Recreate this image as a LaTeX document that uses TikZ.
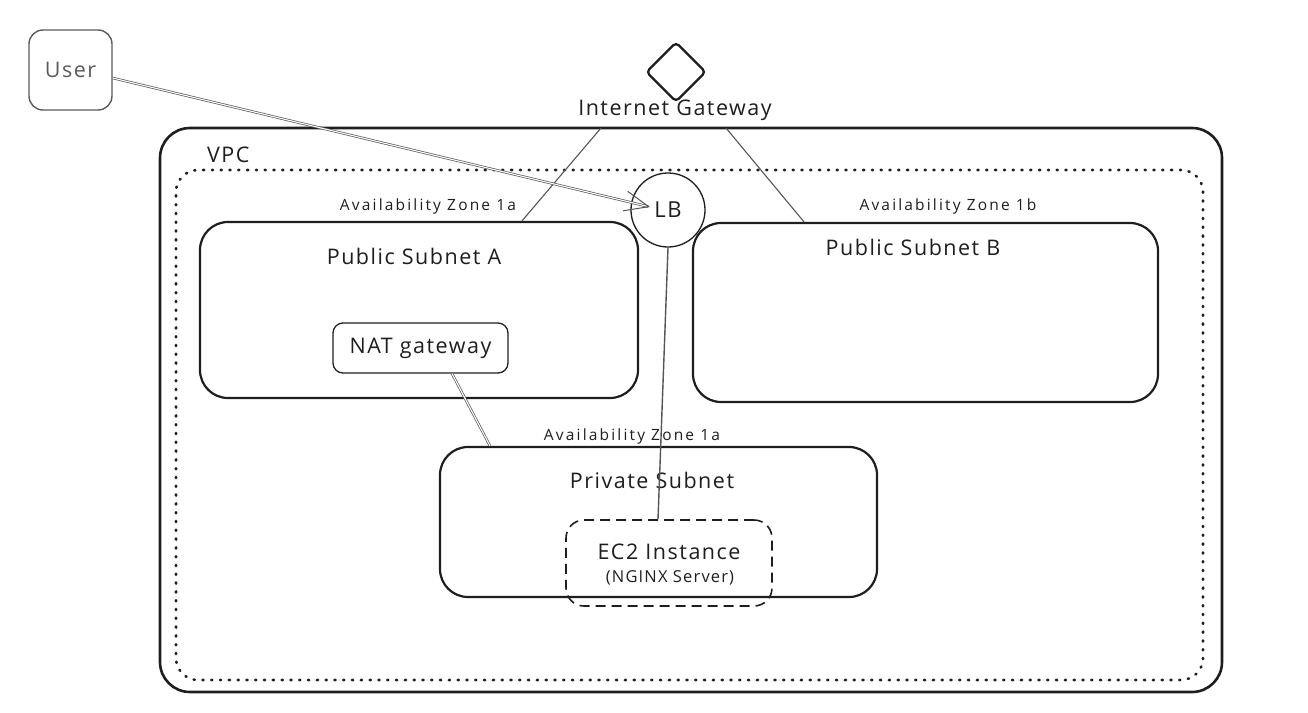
\documentclass[tikz,border=0pt]{standalone}
\usepackage{fontspec}
\setmainfont{Open Sans}[LetterSpace=7]
\newfontfamily\zonefont{Open Sans}[LetterSpace=14]
\usetikzlibrary{shapes.geometric,arrows.meta}
\definecolor{ink}{HTML}{1E1E1E}
\definecolor{soft}{HTML}{5A5A5A}
\definecolor{wire}{HTML}{555555}
\begin{document}
\begin{tikzpicture}[x=1pt,y=-1pt,
  box/.style={draw=ink,rectangle,line width=2.2pt,inner sep=0pt},
  txt/.style={text=ink,font=\fontsize{21.5}{24}\selectfont,inner sep=0pt},
  small/.style={text=ink,font=\zonefont\fontsize{15.5}{18}\selectfont,inner sep=0pt},
  wireline/.style={draw=wire,line width=1.1pt},
  dblwire/.style={draw=wire,line width=0.7pt,double=white,double distance=1.1pt}
]
\useasboundingbox (0,0) rectangle (1308,712);

% outer VPC and zone
\node[box,line width=2.6pt,minimum width=1062pt,minimum height=564pt,rounded corners=30pt] (vpc) at (691,410) {};
\node[txt,anchor=west] (vpcl) at (207,155) {VPC};
\node[draw=ink,line width=2.6pt,dash pattern=on 1.2pt off 7.6pt,line cap=round,rectangle,minimum width=1027pt,minimum height=510pt,rounded corners=22pt] (zone) at (689.5,425) {};

% user
\node[draw=soft,line width=1.4pt,rectangle,minimum width=83pt,minimum height=80pt,rounded corners=14pt,text=soft,font=\fontsize{21.5}{24}\selectfont] (user) at (70.5,70) {User};

% internet gateway
\node[draw=ink,line width=2.3pt,diamond,minimum width=60pt,minimum height=60pt,rounded corners=4pt] (igw) at (676,72) {};
\node[txt] (igwl) at (675,110) {Internet Gateway};

% public subnets
\node[box,minimum width=438pt,minimum height=176pt,rounded corners=28pt] (puba) at (419,310) {};
\node[txt] (pubal) at (414,256) {Public Subnet A};
\node[small] (aza) at (428,206) {Availability Zone 1a};

\node[box,minimum width=465pt,minimum height=179pt,rounded corners=28pt] (pubb) at (925.5,312.5) {};
\node[txt] (pubbl) at (913,247) {Public Subnet B};
\node[small] (azb) at (948,206) {Availability Zone 1b};

% NAT
\node[box,line width=1.3pt,minimum width=175pt,minimum height=50pt,rounded corners=10pt,txt] (nat) at (420.5,348) {NAT gateway};

% private subnet
\node[box,minimum width=437pt,minimum height=150pt,rounded corners=28pt] (priv) at (658.5,522) {};
\node[txt] (privl) at (652,480) {Private Subnet};
\node[small] (azp) at (632,436) {Availability Zone 1a};

% EC2
\node[draw=ink,line width=1.6pt,dash pattern=on 10pt off 6pt,rectangle,minimum width=206pt,minimum height=86pt,rounded corners=18pt] (ec2) at (669,563) {};
\node[txt] (ec2a) at (669,552) {EC2 Instance};
\node[text=ink,font=\fontsize{16.5}{19}\selectfont,inner sep=0pt] (ec2b) at (670,578) {(NGINX Server)};

% load balancer
\node[draw=ink,line width=1.3pt,circle,minimum size=74pt,fill=white,text=ink,font=\fontsize{22}{24}\selectfont,inner sep=0pt] (lb) at (668,210) {LB};

% connectors
\draw[wireline] ([xshift=-74pt,yshift=-18pt]igwl.center) -- ([xshift=103pt]puba.north);
\draw[wireline] ([xshift=51pt,yshift=-18pt]igwl.center) -- ([xshift=-121.5pt]pubb.north);
\draw[wireline,line width=1.4pt] (lb.south) -- ([xshift=-11pt]ec2.north);
\draw[dblwire] ([xshift=31.5pt]nat.south) -- ([xshift=-168.5pt]priv.north);
\draw[dblwire,-{Straight Barb[length=24pt,width=20pt,line width=1pt]}] ([yshift=-8pt]user.east) -- ([xshift=-18pt,yshift=3pt]lb.center);
\end{tikzpicture}
\end{document}
